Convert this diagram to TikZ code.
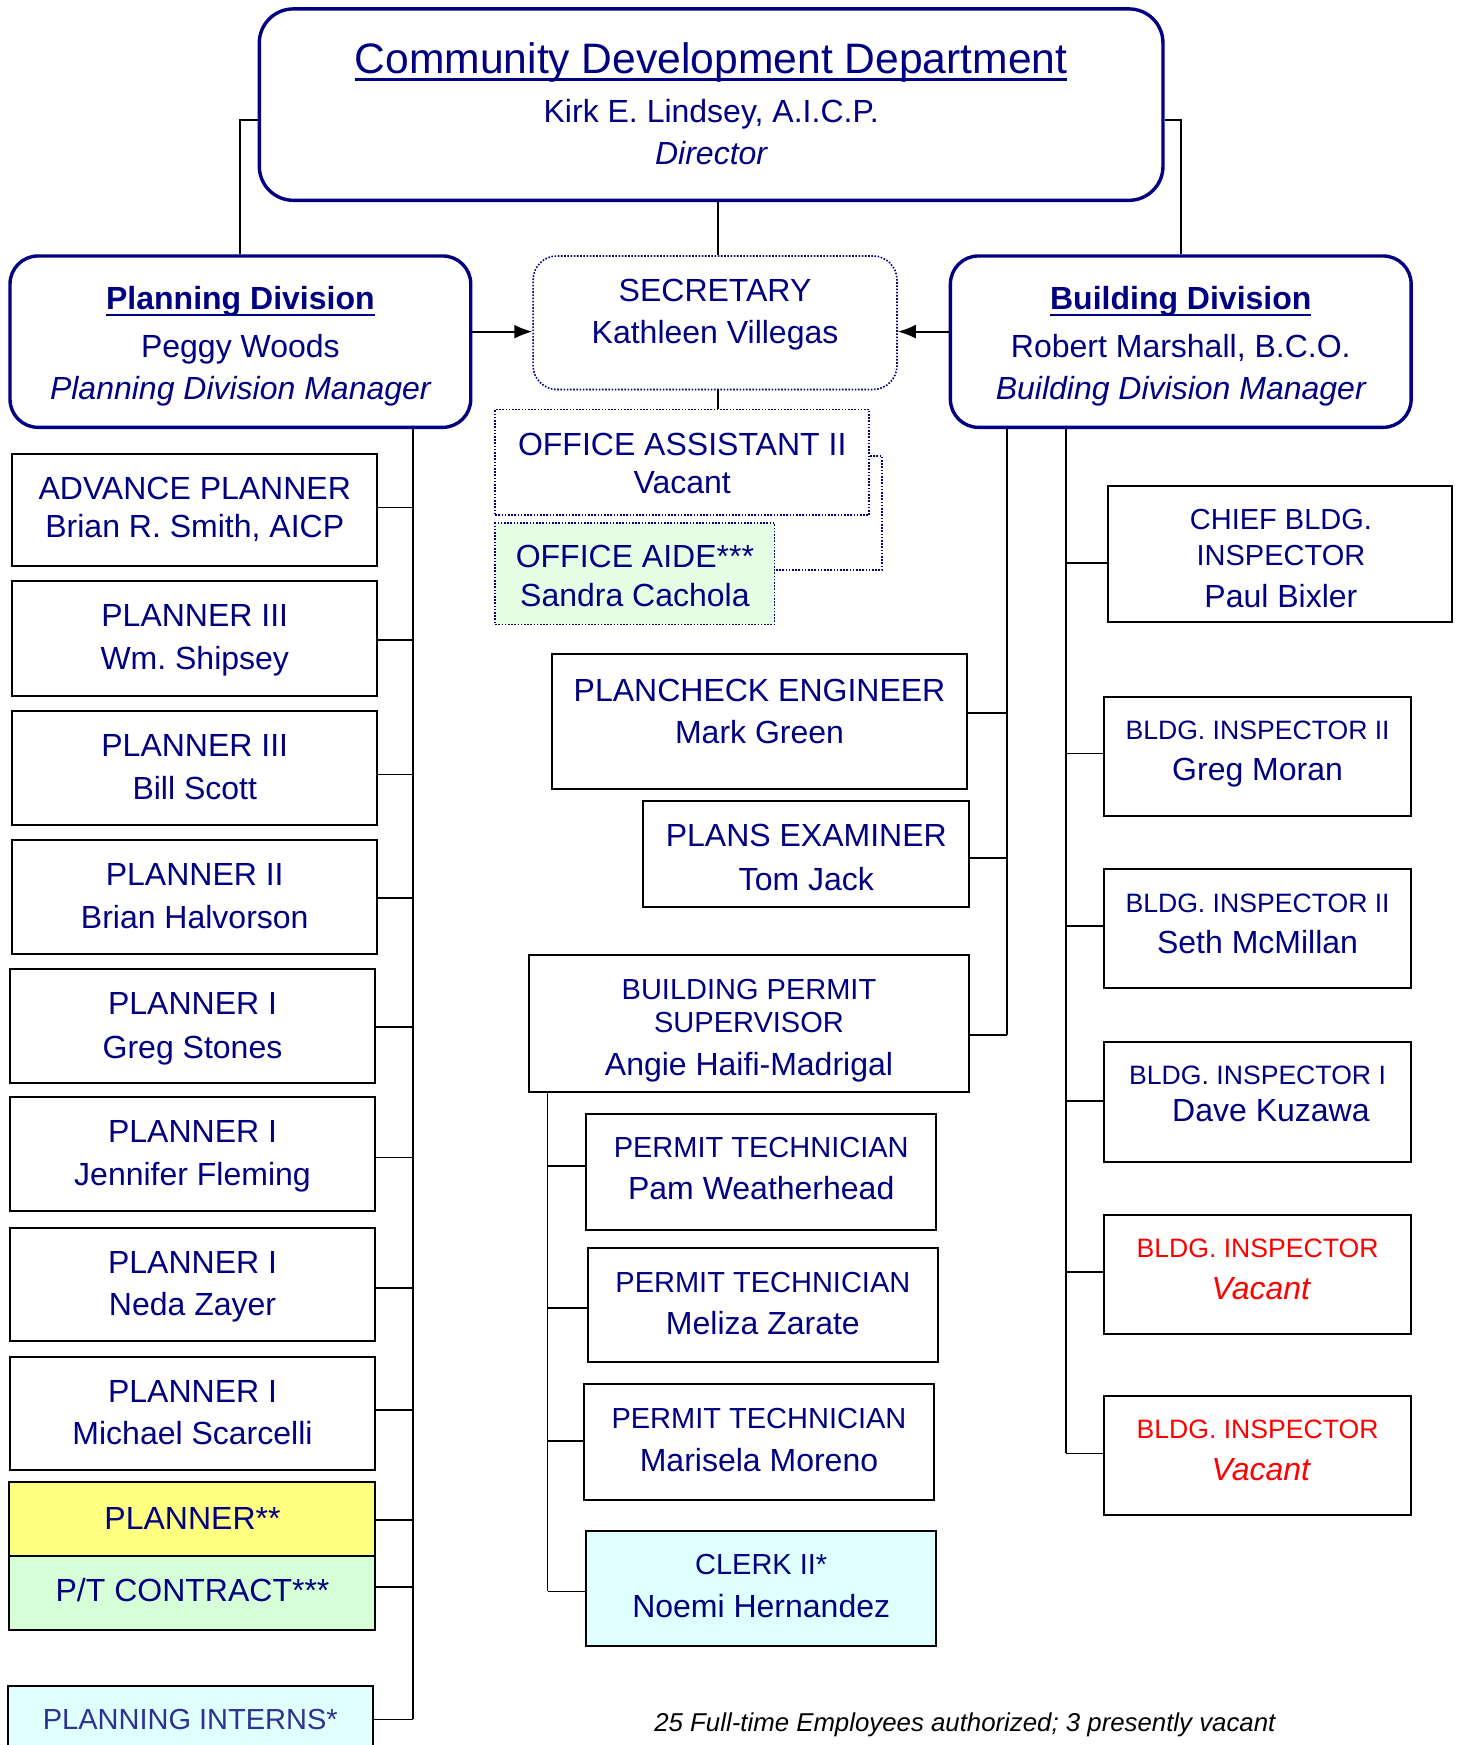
\documentclass[tikz,border=0pt]{standalone}
\usepackage{fontspec}
\setmainfont{Liberation Sans}
\usetikzlibrary{arrows.meta,fit}
\definecolor{navy}{HTML}{000080}
\definecolor{pyellow}{HTML}{FFFF80}
\definecolor{pgreen}{HTML}{D7FFD7}
\definecolor{agreen}{HTML}{E5FFE5}
\definecolor{lcyan}{HTML}{E0FFFF}
\definecolor{internblue}{HTML}{2E3192}
\definecolor{vred}{HTML}{FF0000}
\frenchspacing
\newcommand\myul[3]{\setbox0=\hbox{#1}\leavevmode\rlap{\rule[-#2]{\wd0}{#3}}\box0}
\tikzset{
  box/.style={draw=black, line width=1pt, inner sep=0pt},
  rbox/.style={draw=navy, line width=1.7pt, rounded corners=14pt, inner sep=0pt},
  dbox/.style={draw=navy, line width=0.8pt, dash pattern=on 0.8pt off 0.8pt, inner sep=0pt},
  dline/.style={draw=navy, line width=0.8pt, dash pattern=on 0.8pt off 0.8pt},
  link/.style={draw=black, line width=0.9pt},
  arr/.style={link, -{Latex[length=9pt,width=7pt]}},
  L/.style={anchor=base, inner sep=0pt, text=navy, font=\fontsize{16}{19}\selectfont\frenchspacing},
  M/.style={L, font=\fontsize{14.5}{17}\selectfont\frenchspacing},
  S/.style={L, font=\fontsize{13.3}{16}\selectfont\frenchspacing},
}
\begin{document}
\begin{tikzpicture}[x=0.5564pt,y=-0.5564pt]
\useasboundingbox (0,0) rectangle (1312,1568);
\clip (0,0) rectangle (1312,1568);

% ---------- top level ----------
\node[rbox, rounded corners=17pt, fit={(233,8) (1045,180)}] (dir) {};
\node[L, font=\fontsize{21.3}{25}\selectfont] (dirT) at (639,66) {\myul{Community Development Department}{4pt}{1.7pt}};
\node[L] (dirN) at (639,110) {Kirk E. Lindsey, A.I.C.P.};
\node[L] (dirR) at (639,148) {\itshape Director};

\node[rbox, fit={(9,230) (423,384)}] (pd) {};
\node[L] (pdT) at (216,278) {\bfseries\myul{Planning Division}{3.3pt}{1.1pt}};
\node[L] (pdN) at (216,321) {Peggy Woods};
\node[L] (pdR) at (216,359) {\itshape Planning Division Manager};

\node[dbox, rounded corners=12pt, fit={(479,230) (806,350)}] (sec) {};
\node[L] (secT) at (642.5,271) {SECRETARY};
\node[L] (secN) at (642.5,309) {Kathleen Villegas};

\node[rbox, fit={(854,230) (1268,384)}] (bd) {};
\node[L] (bdT) at (1061,278) {\bfseries\myul{Building Division}{3.3pt}{1.1pt}};
\node[L] (bdN) at (1061,321) {Robert Marshall, B.C.O.};
\node[L] (bdR) at (1061,359) {\itshape Building Division Manager};

\node[dbox, fit={(445,368) (781,463)}] (oa) {};
\node[L] (oaT) at (613,409) {OFFICE ASSISTANT II};
\node[L] (oaN) at (613,443) {Vacant};

\node[dbox, fill=agreen, fit={(445,470) (696,561)}] (aide) {};
\node[L] (aideT) at (570.5,510) {OFFICE AIDE***};
\node[L] (aideN) at (570.5,545) {Sandra Cachola};

% top connectors
\draw[link] (dir.west |- 0,108) -| (pd.north);
\draw[link] (dir.east |- 0,108) -| (bd.north);
\draw[link] (dir.south -| 645,0) -- (sec.north -| 645,0);
\draw[arr] (pd.east |- 0,298) -- (sec.west |- 0,298);
\draw[arr] (bd.west |- 0,298) -- (sec.east |- 0,298);
\draw[link] (sec.south -| 645,0) -- (oa.north -| 645,0);
\draw[dline] (oa.east |- 0,410) -- ++(11,0) |- (aide.east |- 0,512);

% ---------- planning column ----------
\coordinate (pbus) at (371,384);
\draw[link] (pd.south -| pbus) -- (pbus |- 0,1545);

\node[box, fit={(11,408) (339,509)}] (p1) {};
\node[L] (p1T) at (175,449) {ADVANCE PLANNER};
\node[L] (p1N) at (175,483) {Brian R. Smith, AICP};
\node[box, fit={(11,522) (339,625)}] (p2) {};
\node[L] (p2T) at (175,563) {PLANNER III};
\node[L] (p2N) at (175,602) {Wm. Shipsey};
\node[box, fit={(11,639) (339,741)}] (p3) {};
\node[L] (p3T) at (175,680) {PLANNER III};
\node[L] (p3N) at (175,718) {Bill Scott};
\node[box, fit={(11,755) (339,857)}] (p4) {};
\node[L] (p4T) at (175,796) {PLANNER II};
\node[L] (p4N) at (175,834) {Brian Halvorson};
\node[box, fit={(9,871) (337,973)}] (p5) {};
\node[L] (p5T) at (173,912) {PLANNER I};
\node[L] (p5N) at (173,951) {Greg Stones};
\node[box, fit={(9,986) (337,1088)}] (p6) {};
\node[L] (p6T) at (173,1027) {PLANNER I};
\node[L] (p6N) at (173,1065) {Jennifer Fleming};
\node[box, fit={(9,1103) (337,1205)}] (p7) {};
\node[L] (p7T) at (173,1144) {PLANNER I};
\node[L] (p7N) at (173,1182) {Neda Zayer};
\node[box, fit={(9,1219) (337,1321)}] (p8) {};
\node[L] (p8T) at (173,1260) {PLANNER I};
\node[L] (p8N) at (173,1298) {Michael Scarcelli};
\node[box, fill=pyellow, fit={(8,1332) (337,1398)}] (p9) {};
\node[L] (p9T) at (173,1374) {PLANNER**};
\node[box, fill=pgreen, fit={(8,1398) (337,1465)}] (p10) {};
\node[L] (p10T) at (173,1439) {P/T CONTRACT***};
\node[box, fill=lcyan, fit={(7,1515) (335,1600)}] (p11) {};
\node[M, text=internblue] (p11T) at (171,1554) {PLANNING INTERNS*};

\foreach \n/\yy in {p1/456,p2/575,p3/696,p4/807,p5/923,p6/1040,p7/1157,p8/1267,p9/1366,p10/1426,p11/1545}
  \draw[link] (\n.east |- 0,\yy) -- (pbus |- 0,\yy);

% ---------- building column ----------
\coordinate (bbus1) at (905,384);
\coordinate (bbus2) at (958,384);
\draw[link] (bd.south -| bbus1) -- (bbus1 |- 0,930);
\draw[link] (bd.south -| bbus2) -- (bbus2 |- 0,1306);

\node[box, fit={(496,588) (869,709)}] (m1) {};
\node[L] (m1T) at (682.5,630) {PLANCHECK ENGINEER};
\node[L] (m1N) at (682.5,668) {Mark Green};
\node[box, fit={(578,720) (871,815)}] (m2) {};
\node[L] (m2T) at (724.5,761) {PLANS EXAMINER};
\node[L] (m2N) at (724.5,800) {Tom Jack};
\node[box, fit={(475,858) (871,981)}] (m3) {};
\node[M] (m3T) at (673,898) {BUILDING PERMIT};
\node[M] (m3U) at (673,928) {SUPERVISOR};
\node[L] (m3N) at (673,966) {Angie Haifi-Madrigal};
\foreach \n/\yy in {m1/641,m2/771,m3/930}
  \draw[link] (\n.east |- 0,\yy) -- (bbus1 |- 0,\yy);

\coordinate (sbus) at (492,981);
\draw[link] (m3.south -| sbus) -- (sbus |- 0,1430);
\node[box, fit={(527,1001) (841,1105)}] (t1) {};
\node[M] (t1T) at (684,1040) {PERMIT TECHNICIAN};
\node[L] (t1N) at (684,1078) {Pam Weatherhead};
\node[box, fit={(528,1121) (843,1224)}] (t2) {};
\node[M] (t2T) at (685.5,1161) {PERMIT TECHNICIAN};
\node[L] (t2N) at (685.5,1199) {Meliza Zarate};
\node[box, fit={(525,1244) (839,1348)}] (t3) {};
\node[M] (t3T) at (682,1284) {PERMIT TECHNICIAN};
\node[L] (t3N) at (682,1322) {Marisela Moreno};
\node[box, fill=lcyan, fit={(527,1376) (841,1479)}] (t4) {};
\node[M] (t4T) at (684,1415) {CLERK II*};
\node[L] (t4N) at (684,1453) {Noemi Hernandez};
\foreach \n/\yy in {t1/1048,t2/1175,t3/1295,t4/1430}
  \draw[link] (sbus |- 0,\yy) -- (\n.west |- 0,\yy);

\node[box, fit={(996,437) (1305,559)}] (r1) {};
\node[M] (r1T) at (1151,476) {CHIEF BLDG.};
\node[M] (r1U) at (1151,508) {INSPECTOR};
\node[L] (r1N) at (1151,546) {Paul Bixler};
\node[box, fit={(992,626) (1268,733)}] (r2) {};
\node[S] (r2T) at (1130,664.5) {BLDG. INSPECTOR II};
\node[L] (r2N) at (1130,701) {Greg Moran};
\node[box, fit={(992,781) (1268,888)}] (r3) {};
\node[S] (r3T) at (1130,819.5) {BLDG. INSPECTOR II};
\node[L] (r3N) at (1130,857) {Seth McMillan};
\node[box, fit={(992,936) (1268,1044)}] (r4) {};
\node[S] (r4T) at (1130,974.5) {BLDG. INSPECTOR I};
\node[L] (r4N) at (1142,1008) {Dave Kuzawa};
\node[box, fit={(992,1092) (1268,1199)}] (r5) {};
\node[S, text=vred] (r5T) at (1130,1129.5) {BLDG. INSPECTOR};
\node[L, text=vred] (r5N) at (1133,1168) {\itshape Vacant};
\node[box, fit={(992,1254) (1268,1361)}] (r6) {};
\node[S, text=vred] (r6T) at (1130,1292.5) {BLDG. INSPECTOR};
\node[L, text=vred] (r6N) at (1133,1330) {\itshape Vacant};
\foreach \n/\yy in {r1/506,r2/677,r3/832,r4/989,r5/1143,r6/1306}
  \draw[link] (bbus2 |- 0,\yy) -- (\n.west |- 0,\yy);

% footnote
\node[L, text=black, font=\fontsize{12.9}{15}\selectfont\itshape\frenchspacing] (note) at (867,1556) {25 Full-time Employees authorized; 3 presently vacant};
\end{tikzpicture}
\end{document}
